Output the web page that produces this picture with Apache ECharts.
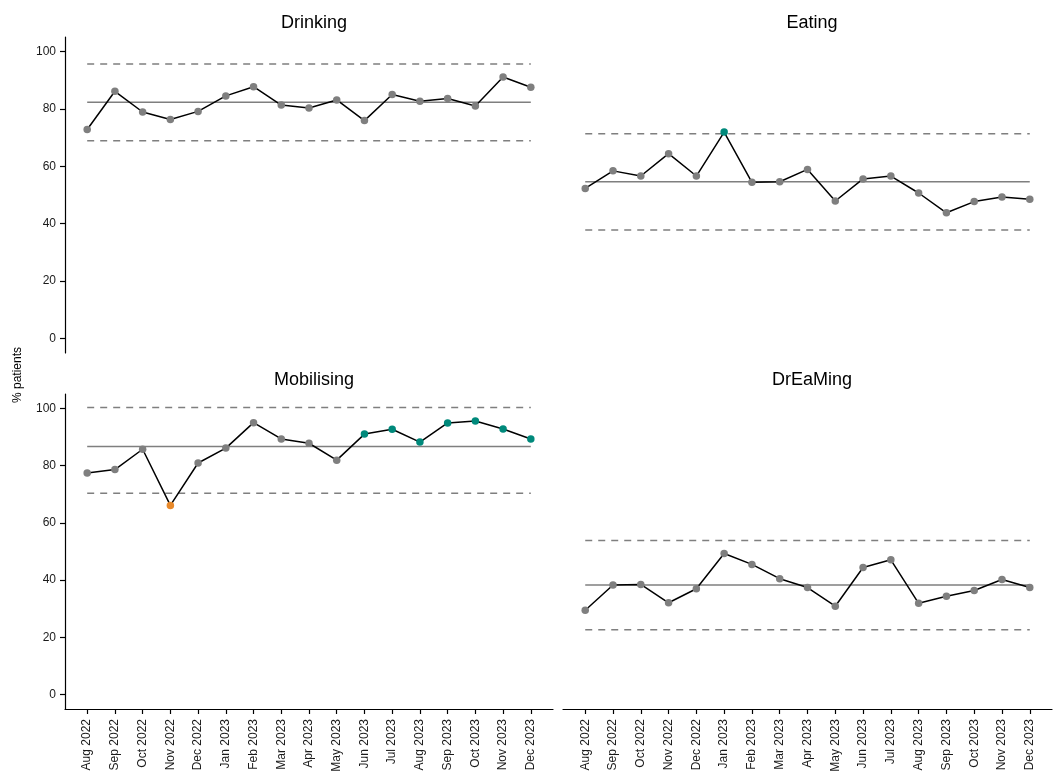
<!DOCTYPE html>
<html>
<head>
<meta charset="utf-8">
<script src="https://cdn.jsdelivr.net/npm/echarts@6/dist/echarts.min.js"></script>
<style>
html,body{margin:0;padding:0;background:#fff;}
#chart{width:1057px;height:776px;}
</style>
</head>
<body>
<div id="chart"></div>
<script>
// ---- Data ----
var months = ['Aug 2022','Sep 2022','Oct 2022','Nov 2022','Dec 2022','Jan 2023','Feb 2023','Mar 2023','Apr 2023','May 2023','Jun 2023','Jul 2023','Aug 2023','Sep 2023','Oct 2023','Nov 2023','Dec 2023'];
var yTicks = [0, 20, 40, 60, 80, 100];
var panelTitles = ['Drinking', 'Eating', 'Mobilising', 'DrEaMing'];

var drinking = [72.8, 86.1, 78.9, 76.3, 79.1, 84.5, 87.7, 81.3, 80.3, 83.1, 75.9, 85.0, 82.6, 83.6, 81.0, 91.1, 87.5];
var eating = [52.3, 58.4, 56.6, 64.4, 56.6, 71.9, 54.4, 54.6, 58.9, 47.9, 55.6, 56.6, 50.7, 43.8, 47.7, 49.3, 48.5];
var mobilising = [77.4, 78.6, 85.7, 66.1, 80.9, 86.1, 95.0, 89.3, 87.8, 81.9, 91.0, 92.7, 88.2, 94.9, 95.6, 92.8, 89.3];
var dreaming = [29.5, 38.3, 38.5, 32.1, 37.0, 49.3, 45.5, 40.5, 37.4, 30.9, 44.4, 47.1, 31.9, 34.4, 36.4, 40.2, 37.4];

// control limits: [lower, centre, upper]
var drinkingLimits = [68.9, 82.3, 95.6];
var eatingLimits = [37.8, 54.6, 71.3];
var mobilisingLimits = [70.3, 86.7, 100.3];
var dreamingLimits = [22.7, 38.3, 53.8];

// special-cause signals per point ('' = common cause, 'hi' = improvement, 'lo' = concern)
var drinkingSignal = ['','','','','','','','','','','','','','','','',''];
var eatingSignal = ['','','','','','hi','','','','','','','','','','',''];
var mobilisingSignal = ['','','','lo','','','','','','','hi','hi','hi','hi','hi','hi','hi'];
var dreamingSignal = ['','','','','','','','','','','','','','','','',''];

var panelValues = [drinking, eating, mobilising, dreaming];
var panelLimits = [drinkingLimits, eatingLimits, mobilisingLimits, dreamingLimits];
var panelSignals = [drinkingSignal, eatingSignal, mobilisingSignal, dreamingSignal];

// ---- Styling / layout ----
var FONT = '"Liberation Sans", Arial, Helvetica, sans-serif';
var signalColor = {'': '#7f7f7f', 'hi': '#00897b', 'lo': '#e8892b'};
var grids = [
  {left: 65, top: 37, width: 488, height: 316},
  {left: 563, top: 37, width: 489, height: 316},
  {left: 65, top: 394, width: 488, height: 315},
  {left: 563, top: 394, width: 489, height: 315}
];
var titlePos = [
  {x: 309, y: 9}, {x: 807, y: 9}, {x: 309, y: 366}, {x: 807, y: 366}
];

var xCustom = months.map(function (m, i) { return i; });

var option = {
  animation: false,
  backgroundColor: '#ffffff',
  textStyle: {fontFamily: FONT},
  title: panelTitles.map(function (t, i) {
    return {
      text: t, left: titlePos[i].x, top: titlePos[i].y, textAlign: 'center',
      textStyle: {fontFamily: FONT, fontSize: 18, fontWeight: 'normal', color: '#000'}
    };
  }),
  grid: grids,
  graphic: [{
    type: 'text', rotation: Math.PI / 2,
    style: {text: '% patients', font: '12px ' + FONT, fill: '#000', textAlign: 'center', textVerticalAlign: 'middle'},
    x: 18, y: 375
  }],
  xAxis: grids.map(function (g, i) {
    var bottom = i >= 2;
    return {
      type: 'value', gridIndex: i, min: -0.8, max: months.length - 1 + 0.8,
      show: bottom,
      splitLine: {show: false},
      axisLine: {show: bottom, onZero: false, lineStyle: {color: '#000', width: 1.2}},
      axisTick: {show: bottom, length: 5, lineStyle: {color: '#000', width: 1.2}, customValues: xCustom},
      axisLabel: {
        show: bottom, rotate: 90, fontSize: 12, color: '#1a1a1a', fontFamily: FONT, margin: 10,
        customValues: xCustom,
        formatter: function (v) { return months[Math.round(v)]; }
      }
    };
  }),
  yAxis: grids.map(function (g, i) {
    var left = (i % 2) === 0;
    return {
      type: 'value', gridIndex: i, min: -5, max: 105,
      show: left,
      splitLine: {show: false},
      axisLine: {show: left, onZero: false, lineStyle: {color: '#000', width: 1.2}},
      axisTick: {show: left, length: 5, lineStyle: {color: '#000', width: 1.2}, customValues: yTicks},
      axisLabel: {show: left, fontSize: 12, color: '#1a1a1a', fontFamily: FONT, margin: 9, customValues: yTicks}
    };
  }),
  series: []
};

for (var p = 0; p < 4; p++) {
  (function (p) {
    var vals = panelValues[p], lim = panelLimits[p], sig = panelSignals[p];
    var last = months.length - 1;
    // control limits
    [[lim[0], 'dashed'], [lim[2], 'dashed'], [lim[1], 'solid']].forEach(function (l) {
      option.series.push({
        type: 'line', xAxisIndex: p, yAxisIndex: p, silent: true, symbol: 'none',
        data: [[0, l[0]], [last, l[0]]],
        lineStyle: {color: '#7f7f7f', width: 1.5, type: l[1] === 'dashed' ? [7, 6] : 'solid'},
        z: 1
      });
    });
    // data line
    option.series.push({
      type: 'line', xAxisIndex: p, yAxisIndex: p, symbol: 'circle', symbolSize: 7.5,
      data: vals.map(function (v, i) {
        return {value: [i, v], itemStyle: {color: signalColor[sig[i]]}};
      }),
      lineStyle: {color: '#000', width: 1.5},
      z: 3
    });
  })(p);
}

var chart = echarts.init(document.getElementById('chart'), null, {renderer: 'canvas'});
chart.setOption(option);
</script>
</body>
</html>
